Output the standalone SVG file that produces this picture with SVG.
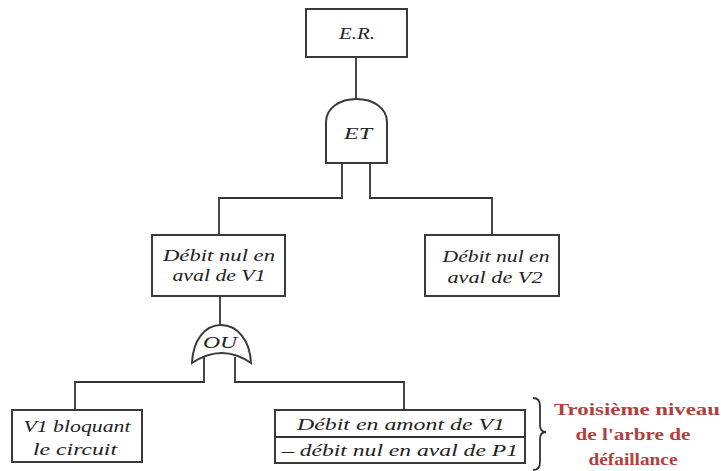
<svg xmlns="http://www.w3.org/2000/svg" width="721" height="471" viewBox="0 0 721 471">
<style>
.box{fill:#fff;stroke:#3a3a3a;stroke-width:2}
.gate{fill:#fff;stroke:#3a3a3a;stroke-width:2}
.ln{fill:none;stroke:#333;stroke-width:1.8}
.t{font-family:"Liberation Serif","Times New Roman",serif;font-style:italic;font-size:16px;fill:#222;text-anchor:middle}
.r{font-family:"Liberation Serif","Times New Roman",serif;font-weight:bold;font-size:17px;fill:#b23f3b;text-anchor:middle}
</style>
<rect width="721" height="471" fill="#fff"/>
<g id="connectors">
<path class="ln" d="M356,57 V99"/>
<path class="ln" d="M342,163 V198 H219 V235"/>
<path class="ln" d="M370,163 V198 H492 V235"/>
<path class="ln" d="M220,296 V325"/>
<path class="ln" d="M204,357 V382 H75 V410"/>
<path class="ln" d="M235,357 V382 H404 V410"/>
</g>
<g id="er">
<rect class="box" x="306" y="9" width="101" height="48"/>
<text class="t" x="357" y="39" textLength="36" lengthAdjust="spacingAndGlyphs">E.R.</text>
</g>
<g id="et">
<path class="gate" d="M326,163 V122 C326,108 340,99 356.5,99 C373,99 387,108 387,122 V163 Z"/>
<text class="t" x="358" y="139" textLength="28" lengthAdjust="spacingAndGlyphs">ET</text>
</g>
<g id="v1">
<rect class="box" x="152" y="235" width="133" height="61"/>
<text class="t" x="219" y="261" textLength="112" lengthAdjust="spacingAndGlyphs">Débit nul en</text>
<text class="t" x="219" y="281" textLength="93" lengthAdjust="spacingAndGlyphs">aval de V1</text>
</g>
<g id="v2">
<rect class="box" x="425" y="235" width="134" height="61"/>
<text class="t" x="496" y="262" textLength="107" lengthAdjust="spacingAndGlyphs">Débit nul en</text>
<text class="t" x="495" y="283" textLength="95" lengthAdjust="spacingAndGlyphs">aval de V2</text>
</g>
<g id="ou">
<path class="gate" d="M192,363 C193,340 205,325 221,325 C237,325 250,340 251,363 Q222,343 192,363 Z"/>
<text class="t" x="220" y="348" textLength="34" lengthAdjust="spacingAndGlyphs">OU</text>
</g>
<g id="v1bloquant">
<rect class="box" x="12" y="410" width="130" height="52"/>
<text class="t" x="77" y="432" textLength="107" lengthAdjust="spacingAndGlyphs">V1 bloquant</text>
<text class="t" x="75" y="455" textLength="84" lengthAdjust="spacingAndGlyphs">le circuit</text>
</g>
<g id="debit">
<rect class="box" x="275" y="410" width="250" height="53"/>
<line class="ln" x1="275" y1="437" x2="525" y2="437"/>
<text class="t" x="401" y="430" textLength="208" lengthAdjust="spacingAndGlyphs">Débit en amont de V1</text>
<text class="t" x="400" y="456" textLength="236" lengthAdjust="spacingAndGlyphs">– débit nul en aval de P1</text>
</g>
<g id="label">
<path class="ln" d="M533,398 Q540,398 540,406 V425 Q540,432 546,432 Q540,432 540,439 V462 Q540,470 533,470"/>
<text class="r" x="637" y="415" textLength="166" lengthAdjust="spacingAndGlyphs">Troisième niveau</text>
<text class="r" x="633" y="440" textLength="115" lengthAdjust="spacingAndGlyphs">de l'arbre de</text>
<text class="r" x="633" y="465" textLength="89" lengthAdjust="spacingAndGlyphs">défaillance</text>
</g>
</svg>
